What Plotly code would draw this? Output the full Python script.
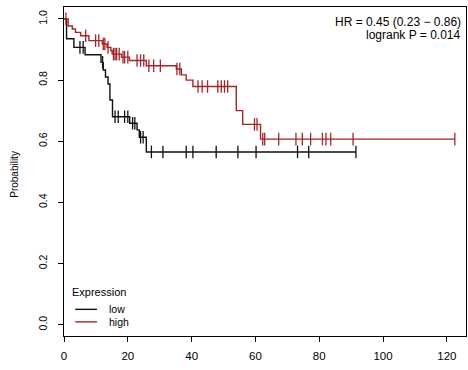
import numpy as np
import plotly.graph_objects as go

# Kaplan-Meier estimates: event times (months) and survival after each event
low_times = [0.8, 3.1, 6.6, 11.6, 12.3, 13.0, 13.8, 14.4, 15.2, 20.6, 22.9, 23.6, 25.8]
low_surv = [0.935, 0.907, 0.883, 0.858, 0.833, 0.81, 0.787, 0.735, 0.68, 0.659, 0.637, 0.613, 0.565]
low_censor = [5.0, 6.0, 12.1, 16.0, 17.0, 19.0, 20.0, 21.5, 22.2, 24.0, 24.8,
              27.4, 31.0, 38.3, 40.4, 47.7, 54.5, 60.2, 73.2, 76.7, 91.5]

high_times = [1.3, 2.6, 3.6, 5.2, 7.8, 12.0, 13.5, 14.7, 15.1, 18.0, 20.5, 25.8,
              35.2, 36.8, 38.3, 40.4, 54.0, 56.0, 61.6]
high_surv = [0.977, 0.967, 0.956, 0.945, 0.929, 0.918, 0.907, 0.896, 0.885, 0.875,
             0.864, 0.847, 0.836, 0.817, 0.80, 0.779, 0.70, 0.655, 0.607]
high_censor = [0.6, 6.8, 9.9, 10.9, 12.3, 12.8, 13.8, 15.5, 16.0, 16.5, 17.3, 18.5,
               19.0, 20.0, 22.9, 24.0, 25.0, 26.6, 28.1, 30.2, 35.4, 36.3,
               42.0, 43.3, 45.0, 48.2, 49.3, 50.3, 51.3, 59.7, 60.5,
               62.3, 62.9, 67.3, 72.7, 74.7, 77.3, 81.0, 82.1, 83.6, 90.6, 122.5]

x_ticks = [0, 20, 40, 60, 80, 100, 120]
y_ticks = [0.0, 0.2, 0.4, 0.6, 0.8, 1.0]

group_names = ["low", "high"]
group_colors = ["#111111", "#a3252b"]
hr_text = "HR = 0.45 (0.23 \u2212 0.86)"
p_text = "logrank P = 0.014"


def km_step(times, surv, censor):
    t = np.array([0.0] + list(times))
    s = np.array([1.0] + list(surv))
    end = max(max(times), max(censor))
    xs = np.append(t, end)
    ys = np.append(s, s[-1])
    c = np.array(censor)
    cs = s[np.searchsorted(t, c, side="right") - 1]
    return xs, ys, c, cs


fig = go.Figure()
font = "Liberation Sans, Arial, sans-serif"

for times, surv, censor, name, col in [
    (low_times, low_surv, low_censor, group_names[0], group_colors[0]),
    (high_times, high_surv, high_censor, group_names[1], group_colors[1]),
]:
    xs, ys, cx, cy = km_step(times, surv, censor)
    fig.add_trace(go.Scatter(x=xs, y=ys, mode="lines", line=dict(color=col, width=1.4, shape="hv"),
                             name=name, showlegend=False))
    fig.add_trace(go.Scatter(x=cx, y=cy, mode="markers",
                             marker=dict(symbol="line-ns-open", size=9, color=col,
                                         line=dict(color=col, width=1.3)),
                             showlegend=False, hoverinfo="skip"))

fig.update_xaxes(range=[0, 126], tickvals=x_ticks, ticktext=[str(v) for v in x_ticks],
                 showline=True, linecolor="black", linewidth=1, mirror=True,
                 ticks="outside", ticklen=5, tickcolor="black", showgrid=False, zeroline=False,
                 tickfont=dict(family=font, size=11.5, color="black"), ticklabelstandoff=4)
fig.update_yaxes(range=[-0.037, 1.039], tickvals=y_ticks, ticktext=[f"{v:.1f}" for v in y_ticks],
                 tickangle=-90, showline=True, linecolor="black", linewidth=1, mirror=True,
                 ticks="outside", ticklen=5, tickcolor="black", showgrid=False, zeroline=False,
                 tickfont=dict(family=font, size=10.5, color="black"), ticklabelstandoff=7)

annotations = [
    dict(text=hr_text, xref="paper", yref="paper", x=0.993, y=0.955, xanchor="right", yanchor="middle",
         showarrow=False, font=dict(family=font, size=12, color="black")),
    dict(text=p_text, xref="paper", yref="paper", x=0.993, y=0.915, xanchor="right", yanchor="middle",
         showarrow=False, font=dict(family=font, size=12, color="black")),
    dict(text="Probability", xref="paper", yref="paper", x=0, xshift=-49, y=0.49, textangle=-90,
         xanchor="center", yanchor="middle", showarrow=False, font=dict(family=font, size=10, color="black")),
    dict(text="Expression", xref="paper", yref="paper", x=0.016, y=0.135, xanchor="left", yanchor="middle",
         showarrow=False, font=dict(family=font, size=11, color="black")),
]
shapes = []
for i, (name, col) in enumerate(zip(group_names, group_colors)):
    yy = 0.081 - i * 0.038
    annotations.append(dict(text=name, xref="paper", yref="paper", x=0.108, y=yy, xanchor="left",
                            yanchor="middle", showarrow=False, font=dict(family=font, size=10.5, color="black")))
    shapes.append(dict(type="line", xref="paper", yref="paper", x0=0.028, x1=0.082, y0=yy, y1=yy,
                       line=dict(color=col, width=1.4)))

fig.update_layout(width=468, height=370, margin=dict(l=64, r=2, t=7, b=34),
                  plot_bgcolor="white", paper_bgcolor="white",
                  annotations=annotations, shapes=shapes, showlegend=False)

fig.write_html("out.html")
